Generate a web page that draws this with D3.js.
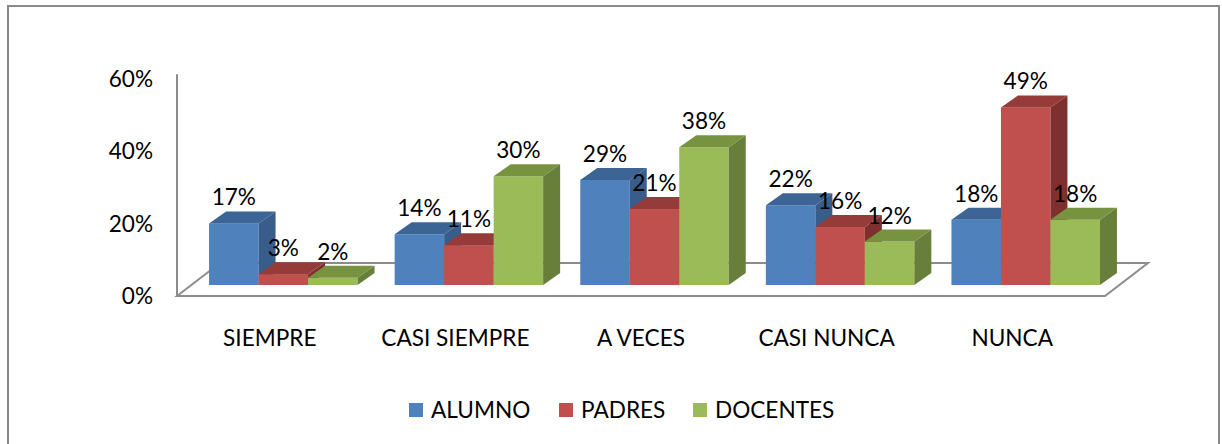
<!DOCTYPE html>
<html>
<head>
<meta charset="utf-8">
<script src="https://cdn.jsdelivr.net/npm/d3@7"></script>
<style>
  html, body { margin: 0; padding: 0; background: #fff; }
  svg { display: block; font-family: Lato, "Open Sans", sans-serif; }
</style>
</head>
<body>
<svg id="chart" width="1222" height="444"></svg>
<script>
const categories = ["SIEMPRE", "CASI SIEMPRE", "A VECES", "CASI NUNCA", "NUNCA"];
const seriesNames = ["ALUMNO", "PADRES", "DOCENTES"];
const alumno   = [0.17, 0.14, 0.29, 0.22, 0.18];
const padres   = [0.03, 0.11, 0.21, 0.16, 0.49];
const docentes = [0.02, 0.30, 0.38, 0.12, 0.18];
const yTicks = [0, 0.2, 0.4, 0.6];

const seriesValues = [alumno, padres, docentes];
const colors = {
  front: ["#4F81BD", "#C0504D", "#9BBB59"],
  top:   ["#3C6596", "#953C3A", "#77933F"],
  side:  ["#385D8A", "#7F302E", "#677F3A"]
};

const svg = d3.select("#chart");
const fontSize = 22.6;

// outer border
svg.append("rect").attr("x", 8).attr("y", 6).attr("width", 1211).attr("height", 450)
  .attr("fill", "none").attr("stroke", "#898989").attr("stroke-width", 2);

// geometry
const x0 = d3.scaleBand().domain(categories).range([177, 1105]).paddingInner(0.2).paddingOuter(0.1);
const x1 = d3.scaleBand().domain(seriesNames).range([0, x0.bandwidth()]);
const y = d3.scaleLinear().domain([0, 0.6]).range([296, 78.5]);

const floorD = { dx: 43, dy: -33 };     // full floor depth
const barOff = { dx: 13.5, dy: -11 };   // bar front position within depth
const barD = { dx: 17, dy: -12 };       // bar depth

// floor
const xl = x0.range()[0], xr = x0.range()[1], yb = y(0);
svg.append("path")
  .attr("d", `M${xl},${yb} L${xl + floorD.dx},${yb + floorD.dy} L${xr + floorD.dx},${yb + floorD.dy} L${xr},${yb} Z`)
  .attr("fill", "#fff").attr("stroke", "#8c8c8c").attr("stroke-width", 2);

// vertical axis
const yAxis = d3.axisLeft(y).tickValues(yTicks).tickFormat(d3.format(".0%")).tickSize(0).tickPadding(24);
const gy = svg.append("g").attr("transform", `translate(${xl},0)`).call(yAxis);
gy.select(".domain").attr("stroke", "#8c8c8c").attr("stroke-width", 2)
  .attr("d", `M0,${y(0)}V${y(0.612)}`);
gy.selectAll("text").attr("font-size", fontSize).attr("font-family", "Lato, sans-serif")
  .attr("fill", "#000").attr("dy", "0.35em");

// category labels
const gx = svg.append("g").attr("transform", `translate(0,${yb})`)
  .call(d3.axisBottom(x0).tickSize(0).tickPadding(34));
gx.select(".domain").remove();
gx.selectAll("text").attr("font-size", fontSize).attr("font-family", "Lato, sans-serif").attr("fill", "#000");

// bars
const bars = [];
categories.forEach((c, ci) => {
  seriesNames.forEach((s, si) => {
    bars.push({ c, s, si, v: seriesValues[si][ci] });
  });
});

const gb = svg.append("g");
bars.forEach(b => {
  const xa = x0(b.c) + x1(b.s) + barOff.dx;
  const xb = xa + x1.bandwidth();
  const yBot = y(0) + barOff.dy;
  const yTop = y(b.v) + barOff.dy;
  const g = gb.append("g");
  g.append("rect").attr("x", xa).attr("y", yTop).attr("width", xb - xa).attr("height", yBot - yTop)
    .attr("fill", colors.front[b.si]);
  g.append("path")
    .attr("d", `M${xb},${yTop} L${xb + barD.dx},${yTop + barD.dy} L${xb + barD.dx},${yBot + barD.dy} L${xb},${yBot} Z`)
    .attr("fill", colors.side[b.si]);
  g.append("path")
    .attr("d", `M${xa},${yTop} L${xa + barD.dx},${yTop + barD.dy} L${xb + barD.dx},${yTop + barD.dy} L${xb},${yTop} Z`)
    .attr("fill", colors.top[b.si]);
});

// data labels
svg.append("g").selectAll("text").data(bars).join("text")
  .attr("x", d => x0(d.c) + x1(d.s) + barOff.dx + x1.bandwidth() / 2)
  .attr("y", d => y(d.v) + barOff.dy - 18)
  .attr("text-anchor", "middle")
  .attr("font-size", fontSize)
  .attr("fill", "#000")
  .text(d => d3.format(".0%")(d.v));

// legend
const legendX = [409, 559, 693];
const lg = svg.append("g");
seriesNames.forEach((s, i) => {
  lg.append("rect").attr("x", legendX[i]).attr("y", 403).attr("width", 14).attr("height", 14)
    .attr("fill", colors.front[i]);
  lg.append("text").attr("x", legendX[i] + 22).attr("y", 418)
    .attr("font-size", fontSize).attr("fill", "#000").text(s);
});
</script>
</body>
</html>
